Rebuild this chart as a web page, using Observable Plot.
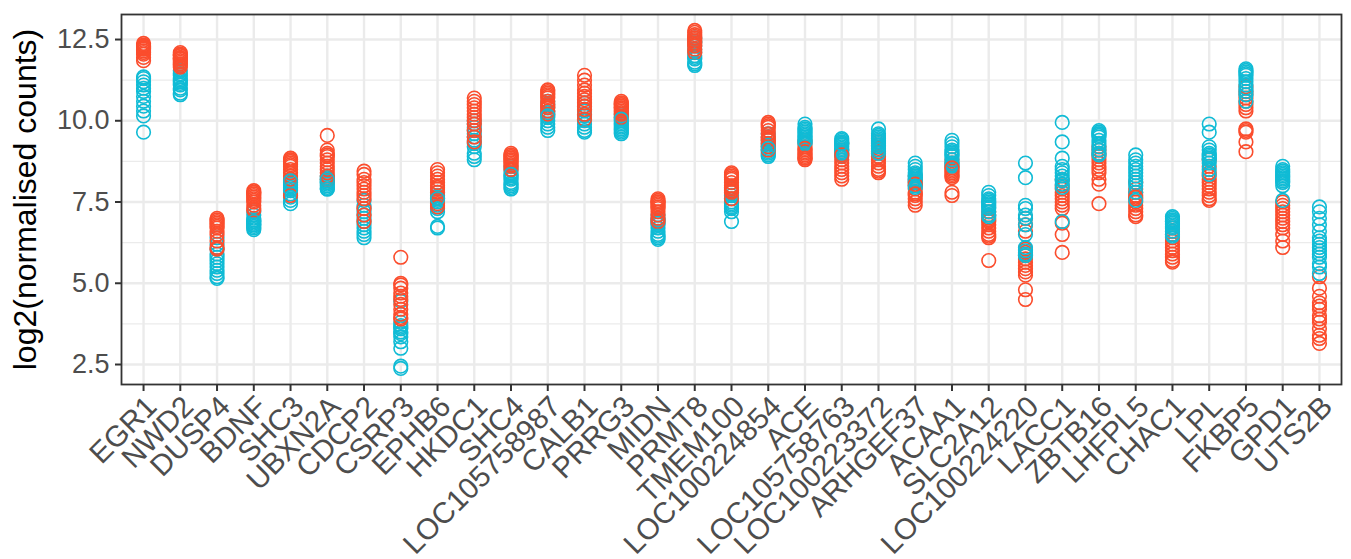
<!DOCTYPE html>
<html><head><meta charset="utf-8">
<script src="https://cdn.jsdelivr.net/npm/d3@7"></script>
<script src="https://cdn.jsdelivr.net/npm/@observablehq/plot@0.6"></script>
<style>body{margin:0;background:#fff;} svg{font-family:"Liberation Sans",Arial,sans-serif;}</style>
</head><body><div id="chart"></div>
<script>
const genes = ["EGR1","NWD2","DUSP4","BDNF","SHC3","UBXN2A","CDCP2","CSRP3","EPHB6","HKDC1","SHC4","LOC105758987","CALB1","PRRG3","MIDN","PRMT8","TMEM100","LOC100224854","ACE","LOC105758763","LOC100223372","ARHGEF37","ACAA1","SLC2A12","LOC100224220","LACC1","ZBTB16","LHFPL5","CHAC1","LPL","FKBP5","GPD1","UTS2B"];

const groupRed = [
  [12.38,12.33,12.3,12.25,12.2,12.15,12.1,12.05,11.95,11.85,12.28,12.22],
  [12.1,12.05,12.0,11.95,11.9,11.85,11.8,11.75,11.7,11.65,12.02,11.92],
  [7.0,6.95,6.9,6.8,6.7,6.6,6.5,6.3,6.1,6.05,6.85,6.75],
  [7.85,7.8,7.75,7.7,7.6,7.55,7.5,7.4,7.3,7.25,7.65,7.8],
  [8.85,8.8,8.75,8.7,8.6,8.5,8.4,8.3,8.2,7.7,8.65,8.8],
  [9.55,9.1,9.0,8.95,8.9,8.8,8.7,8.6,8.5,8.4,8.3,8.2],
  [8.45,8.35,8.2,8.1,8.0,7.9,7.8,7.7,7.6,7.3,7.1,6.9],
  [5.8,5.0,4.95,4.85,4.7,4.6,4.5,4.35,4.2,4.05,3.95,3.9],
  [8.5,8.4,8.3,8.2,8.1,8.0,7.9,7.8,7.6,7.45,7.35,7.95],
  [10.7,10.6,10.5,10.4,10.3,10.2,10.1,10.0,9.9,9.7,9.5,9.35],
  [9.0,8.95,8.9,8.85,8.8,8.75,8.7,8.65,8.6,8.5,8.9,8.8],
  [10.95,10.9,10.85,10.8,10.7,10.6,10.5,10.45,10.4,10.3,10.2,10.75],
  [11.4,11.25,11.1,10.95,10.85,10.75,10.65,10.55,10.45,10.35,10.2,10.05],
  [10.6,10.55,10.5,10.45,10.4,10.35,10.3,10.25,10.2,10.1,10.5,10.4],
  [7.6,7.55,7.5,7.45,7.4,7.3,7.2,7.1,7.0,6.9,7.5,7.35],
  [12.78,12.72,12.65,12.6,12.55,12.5,12.45,12.4,12.35,12.3,12.2,12.1],
  [8.4,8.35,8.3,8.2,8.1,8.0,7.95,7.9,7.85,7.8,8.25,7.6],
  [9.95,9.9,9.85,9.8,9.7,9.6,9.5,9.45,9.4,9.3,9.2,9.1],
  [9.4,9.3,9.2,9.1,9.0,8.95,8.9,8.85,8.8,9.05,9.15,8.85],
  [9.3,9.1,9.0,8.9,8.8,8.7,8.6,8.5,8.4,8.3,8.2,8.95],
  [9.35,9.25,9.15,9.05,9.0,8.9,8.8,8.7,8.6,8.5,8.45,8.4],
  [8.3,8.2,8.1,8.0,7.9,7.8,7.7,7.6,7.5,7.4,8.05,7.75],
  [8.8,8.7,8.6,8.5,8.45,8.4,8.35,8.3,8.25,7.8,7.7,8.55],
  [7.2,7.1,7.0,6.95,6.9,6.8,6.7,6.6,6.5,6.45,6.4,5.7],
  [7.0,6.8,6.6,6.05,5.95,5.85,5.75,5.65,5.55,5.45,5.35,5.25,4.8,4.5],
  [8.2,8.0,7.9,7.8,7.7,7.6,7.5,7.4,7.3,6.85,6.5,5.95],
  [9.2,9.1,9.0,8.9,8.8,8.7,8.6,8.5,8.4,8.2,8.05,7.45],
  [8.1,7.9,7.8,7.7,7.6,7.5,7.4,7.3,7.2,7.1,7.05,7.65],
  [6.7,6.6,6.5,6.4,6.3,6.2,6.1,6.0,5.9,5.8,5.7,5.65],
  [8.8,8.6,8.4,8.3,8.2,8.1,8.0,7.9,7.8,7.7,7.6,7.55],
  [11.05,10.9,10.8,10.7,10.6,10.5,10.4,10.3,9.75,9.7,9.65,9.35,9.05],
  [7.5,7.4,7.3,7.2,7.1,7.0,6.9,6.8,6.7,6.5,6.3,6.1],
  [5.2,4.85,4.6,4.4,4.3,4.2,4.0,3.9,3.8,3.6,3.4,3.3,3.15]
];

const groupCyan = [
  [11.35,11.3,11.2,11.1,11.0,10.9,10.75,10.6,10.45,10.3,10.15,9.65],
  [11.55,11.45,11.4,11.3,11.25,11.2,11.1,11.0,10.95,10.85,10.8,11.15],
  [6.4,6.2,6.05,5.9,5.8,5.7,5.6,5.5,5.4,5.3,5.2,5.15],
  [7.2,7.1,7.0,6.95,6.9,6.85,6.8,6.75,6.7,6.65,6.9,6.8],
  [8.2,8.1,8.05,8.0,7.95,7.85,7.75,7.65,7.55,7.45,8.15,7.9],
  [8.3,8.25,8.2,8.15,8.1,8.1,8.05,8.0,7.95,7.9,7.9,8.2],
  [7.55,7.4,7.3,7.2,7.1,7.0,6.9,6.8,6.7,6.6,6.5,6.4],
  [4.45,3.8,3.7,3.65,3.6,3.5,3.45,3.35,3.2,3.0,2.45,2.38],
  [7.8,7.7,7.65,7.6,7.55,7.5,7.4,7.3,7.2,6.75,6.7,7.6],
  [10.0,9.9,9.8,9.7,9.6,9.5,9.4,9.3,9.2,9.0,8.9,8.8],
  [8.6,8.5,8.4,8.3,8.25,8.2,8.1,8.05,8.0,7.95,7.9,8.35],
  [10.6,10.5,10.4,10.3,10.25,10.2,10.1,10.0,9.9,9.8,9.7,10.15],
  [10.55,10.45,10.35,10.3,10.2,10.15,10.05,10.0,9.9,9.8,9.7,9.65],
  [10.2,10.1,10.0,9.95,9.9,9.85,9.8,9.75,9.7,9.65,9.6,10.05],
  [7.1,7.0,6.95,6.9,6.85,6.8,6.7,6.6,6.5,6.45,6.4,6.35],
  [12.55,12.45,12.4,12.3,12.2,12.1,12.0,11.95,11.9,11.8,11.75,11.7],
  [7.95,7.9,7.8,7.7,7.6,7.5,7.45,7.4,7.35,7.3,7.2,6.9],
  [9.6,9.5,9.4,9.3,9.25,9.2,9.1,9.05,9.0,8.95,8.9,9.15],
  [9.9,9.8,9.75,9.7,9.6,9.5,9.45,9.4,9.3,9.55,9.65,9.35],
  [9.45,9.4,9.35,9.3,9.25,9.2,9.15,9.1,9.05,9.0,8.95,9.3],
  [9.75,9.6,9.5,9.45,9.4,9.35,9.3,9.25,9.2,9.1,9.0,9.55],
  [8.7,8.6,8.5,8.4,8.3,8.25,8.2,8.15,8.1,8.0,7.95,8.35],
  [9.4,9.3,9.2,9.1,9.0,8.95,8.9,8.8,8.7,8.65,8.6,9.05],
  [7.8,7.7,7.6,7.5,7.45,7.4,7.35,7.3,7.2,7.1,7.05,7.55],
  [8.7,8.25,7.4,7.3,7.1,7.0,6.8,6.5,6.1,6.0,5.9,5.85],
  [9.95,9.35,8.85,8.6,8.5,8.4,8.3,8.2,8.15,8.05,7.95,6.9],
  [9.7,9.65,9.6,9.55,9.5,9.4,9.3,9.2,9.1,9.0,8.95,9.6],
  [8.95,8.8,8.7,8.6,8.5,8.4,8.3,8.2,8.1,8.0,7.8,7.55],
  [7.05,7.0,6.95,6.9,6.85,6.8,6.75,6.7,6.6,6.5,6.45,6.9],
  [9.9,9.65,9.2,9.1,9.0,8.95,8.9,8.85,8.8,8.7,8.5,8.35],
  [11.6,11.55,11.5,11.45,11.4,11.3,11.2,11.1,11.0,10.9,10.8,10.6],
  [8.6,8.5,8.45,8.4,8.35,8.3,8.25,8.2,8.1,8.0,7.55,8.15],
  [7.35,7.2,7.0,6.8,6.6,6.4,6.3,6.2,6.1,6.0,5.9,5.8,5.6,5.5,5.3]
];

const groups = ["group A", "group B"];
const groupColors = ["#FB4D2D", "#10BBD5"];
const yTicks = [2.5, 5, 7.5, 10, 12.5];
const yMinorTicks = [3.75, 6.25, 8.75, 11.25];
const yLabel = "log2(normalised counts)";

const rows = [];
genes.forEach((g, gi) => {
  const a = groupRed[gi], b = groupCyan[gi];
  const n = Math.max(a.length, b.length);
  for (let i = 0; i < n; i++) {
    if (i < a.length) rows.push({gene: g, group: groups[0], value: a[i]});
    if (i < b.length) rows.push({gene: g, group: groups[1], value: b[i]});
  }
});

const chart = Plot.plot({
  width: 1351, height: 559,
  marginLeft: 121, marginRight: 10, marginTop: 14, marginBottom: 175,
  style: {fontFamily: '"Liberation Sans", Arial, sans-serif', background: "#fff", overflow: "visible"},
  x: {type: "point", domain: genes, padding: 0.6, round: false},
  y: {domain: [1.885, 13.27]},
  color: {type: "ordinal", domain: groups, range: groupColors},
  marks: [
    Plot.gridY(yMinorTicks, {stroke: "#EBEBEB", strokeOpacity: 1, strokeWidth: 1.4}),
    Plot.gridY(yTicks, {stroke: "#EBEBEB", strokeOpacity: 1, strokeWidth: 2.4}),
    Plot.gridX(genes, {stroke: "#EBEBEB", strokeOpacity: 1, strokeWidth: 2.4}),
    Plot.dot(rows, {x: "gene", y: "value", stroke: "group", r: 6.8, strokeWidth: 1.6, fill: "none"}),
    Plot.frame({stroke: "#333333", strokeWidth: 1.8}),
    Plot.axisY(yTicks, {tickFormat: d3.format(".1f"), fontSize: 27, fill: "#4D4D4D", stroke: "#333333", strokeWidth: 2, tickSize: 6, tickPadding: 6, label: null}),
    Plot.axisX({tickSize: 7, stroke: "#333333", strokeWidth: 2, tickFormat: () => "", label: null}),
    Plot.text(genes, {x: d => d, text: d => d, frameAnchor: "bottom", dy: 9, rotate: -45, textAnchor: "end", lineAnchor: "top", fontSize: 29.5, fill: "#4D4D4D"}),
    Plot.text([yLabel], {text: d => d, frameAnchor: "left", rotate: -90, dx: -86, textAnchor: "middle", lineAnchor: "bottom", fontSize: 32, fill: "#000000"})
  ]
});
document.getElementById("chart").appendChild(chart);
</script>
</body></html>
